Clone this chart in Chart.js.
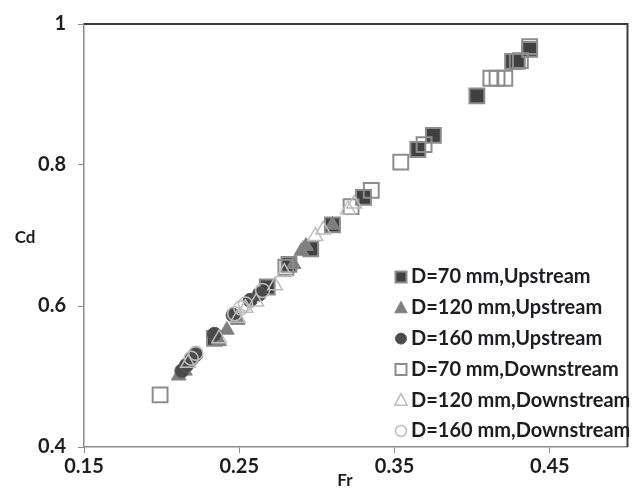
<!DOCTYPE html>
<html>
<head>
<meta charset="utf-8">
<script src="https://cdn.jsdelivr.net/npm/chart.js"></script>
<style>
  body { margin: 0; background: #fff; }
  #wrap { width: 640px; height: 490px; }
</style>
</head>
<body>
<div id="wrap"><canvas id="chart" width="640" height="490"></canvas></div>
<script>

( function() {

  // --- data (Fr, Cd)

  var seriesNames = [
    'D=70 mm,Upstream',
    'D=120 mm,Upstream',
    'D=160 mm,Upstream',
    'D=70 mm,Downstream',
    'D=120 mm,Downstream',
    'D=160 mm,Downstream'
  ];

  var frUp70 = [ 0.234, 0.268, 0.282, 0.296, 0.310, 0.330, 0.365, 0.375, 0.403, 0.426, 0.429, 0.437 ];
  var cdUp70 = [ 0.554, 0.627, 0.659, 0.681, 0.715, 0.754, 0.822, 0.842, 0.898, 0.947, 0.947, 0.964 ];

  var frUp120 = [ 0.211, 0.215, 0.237, 0.242, 0.249, 0.285, 0.290, 0.293, 0.310 ];
  var cdUp120 = [ 0.501, 0.508, 0.550, 0.566, 0.580, 0.659, 0.678, 0.685, 0.715 ];

  var frUp160 = [ 0.213, 0.216, 0.219, 0.222, 0.234, 0.246, 0.257, 0.263 ];
  var cdUp160 = [ 0.508, 0.516, 0.524, 0.531, 0.560, 0.587, 0.608, 0.617 ];

  var frDown70 = [ 0.199, 0.280, 0.322, 0.335, 0.354, 0.369, 0.412, 0.416, 0.421, 0.431, 0.437 ];
  var cdDown70 = [ 0.474, 0.655, 0.741, 0.764, 0.804, 0.829, 0.923, 0.923, 0.923, 0.948, 0.968 ];

  var frDown120 = [ 0.217, 0.237, 0.249, 0.254, 0.261, 0.273, 0.279, 0.299, 0.304, 0.320, 0.324 ];
  var cdDown120 = [ 0.519, 0.554, 0.583, 0.597, 0.606, 0.629, 0.648, 0.699, 0.708, 0.737, 0.745 ];

  var frDown160 = [ 0.219, 0.222, 0.247, 0.251, 0.254, 0.265 ];
  var cdDown160 = [ 0.526, 0.533, 0.589, 0.597, 0.603, 0.622 ];

  var xTicks = [ 0.15, 0.25, 0.35, 0.45 ];
  var yTicks = [ 0.4, 0.6, 0.8, 1 ];

  var FONT = 'Lato, "Liberation Sans", sans-serif';
  var TEXT = '#1d1d24';

  // --- helpers

  var toPoints = function( xs, ys ) {
    return xs.map( function( x, i ) {
      return { x: x, y: ys[ i ] };
    } );
  };

  var styles = [
    { pointStyle: 'rect',     pointRadius: 10.5, backgroundColor: '#404040', borderColor: '#8c8c8c', borderWidth: 2 },
    { pointStyle: 'triangle', pointRadius: 8.5,  backgroundColor: '#7f7f7f', borderColor: '#858585', borderWidth: 1 },
    { pointStyle: 'circle',   pointRadius: 7,    backgroundColor: '#4a4a4a', borderColor: '#595959', borderWidth: 1 },
    { pointStyle: 'rect',     pointRadius: 10.5, backgroundColor: 'rgba(255,255,255,0)', borderColor: '#8c8c8c', borderWidth: 2 },
    { pointStyle: 'triangle', pointRadius: 8.5,  backgroundColor: 'rgba(255,255,255,0)', borderColor: '#bdbdbd', borderWidth: 1.5 },
    { pointStyle: 'circle',   pointRadius: 7,    backgroundColor: 'rgba(255,255,255,0)', borderColor: '#bdbdbd', borderWidth: 1.5 }
  ];

  var seriesData = [
    toPoints( frUp70, cdUp70 ),
    toPoints( frUp120, cdUp120 ),
    toPoints( frUp160, cdUp160 ),
    toPoints( frDown70, cdDown70 ),
    toPoints( frDown120, cdDown120 ),
    toPoints( frDown160, cdDown160 )
  ];

  var datasets = seriesData.map( function( pts, i ) {
    var s = styles[ i ];
    return {
      label: seriesNames[ i ],
      data: pts,
      pointStyle: s.pointStyle,
      pointRadius: s.pointRadius,
      pointHoverRadius: s.pointRadius,
      pointBackgroundColor: s.backgroundColor,
      pointBorderColor: s.borderColor,
      pointBorderWidth: s.borderWidth,
      showLine: false,
      order: 5 - i
    };
  } );

  // small marker drawer for the legend
  var drawMarker = function( ctx, s, x, y ) {
    ctx.save();
    ctx.fillStyle = s.backgroundColor.indexOf( 'rgba' ) === 0 ? '#ffffff' : s.backgroundColor;
    ctx.strokeStyle = s.borderColor;
    ctx.lineWidth = s.borderWidth;
    ctx.beginPath();
    if ( s.pointStyle === 'rect' ) {
      ctx.rect( x - 5.5, y - 5.5, 11, 11 );
    } else if ( s.pointStyle === 'triangle' ) {
      ctx.moveTo( x, y - 6.5 );
      ctx.lineTo( x + 6.2, y + 5 );
      ctx.lineTo( x - 6.2, y + 5 );
      ctx.closePath();
    } else {
      ctx.arc( x, y, 5.5, 0, Math.PI * 2 );
    }
    ctx.fill();
    ctx.stroke();
    ctx.restore();
  };

  var framePlugin = {
    id: 'frame',
    afterDraw: function( chart ) {
      var ctx = chart.ctx;
      var a = chart.chartArea;

      // top and right frame lines
      ctx.save();
      ctx.strokeStyle = '#3a3a3a';
      ctx.lineWidth = 2;
      ctx.beginPath();
      ctx.moveTo( a.left, a.top );
      ctx.lineTo( a.right, a.top );
      ctx.lineTo( a.right, a.bottom );
      ctx.stroke();

      // axis titles
      ctx.fillStyle = TEXT;
      ctx.font = 'bold 17px ' + FONT;
      ctx.textAlign = 'center';
      ctx.textBaseline = 'middle';
      ctx.fillText( 'Cd', 25, 238 );
      ctx.fillText( 'Fr', 345, 481 );

      // legend inside the plot
      ctx.font = 'bold 20px ' + FONT;
      ctx.textAlign = 'left';
      for ( var i = 0; i < seriesNames.length; i++ ) {
        var y = 277 + i * 30.8;
        drawMarker( ctx, styles[ i ], 401, y );
        ctx.fillStyle = TEXT;
        ctx.fillText( seriesNames[ i ], 411, y );
      }
      ctx.restore();
    }
  };

  var tickFmt = function( v ) {
    return String( +Number( v ).toFixed( 2 ) );
  };

  var config = {
    type: 'scatter',
    data: { datasets: datasets },
    options: {
      responsive: false,
      animation: false,
      devicePixelRatio: 1,
      layout: { padding: { top: 18, right: 3, left: 0, bottom: 0 } },
      plugins: {
        legend: { display: false },
        tooltip: { enabled: false }
      },
      scales: {
        x: {
          type: 'linear',
          min: 0.15,
          max: 0.5,
          afterBuildTicks: function( scale ) {
            scale.ticks = xTicks.map( function( v ) { return { value: v }; } );
          },
          afterFit: function( scale ) { scale.height = 43; },
          grid: { drawOnChartArea: false, drawTicks: true, tickLength: 6, color: '#8c8c8c' },
          border: { color: '#8c8c8c', width: 1.5 },
          ticks: {
            padding: 2,
            color: TEXT,
            font: { family: FONT, size: 20, weight: 'bold' },
            callback: tickFmt
          }
        },
        y: {
          type: 'linear',
          min: 0.4,
          max: 1,
          afterBuildTicks: function( scale ) {
            scale.ticks = yTicks.map( function( v ) { return { value: v }; } );
          },
          afterFit: function( scale ) { scale.width = 84; },
          grid: { drawOnChartArea: false, drawTicks: true, tickLength: 6, color: '#8c8c8c' },
          border: { color: '#8c8c8c', width: 1.5 },
          ticks: {
            padding: 12,
            color: TEXT,
            font: { family: FONT, size: 20, weight: 'bold' },
            callback: tickFmt
          }
        }
      }
    },
    plugins: [ framePlugin ]
  };

  new Chart( document.getElementById( 'chart' ), config );

} )();

</script>
</body>
</html>
